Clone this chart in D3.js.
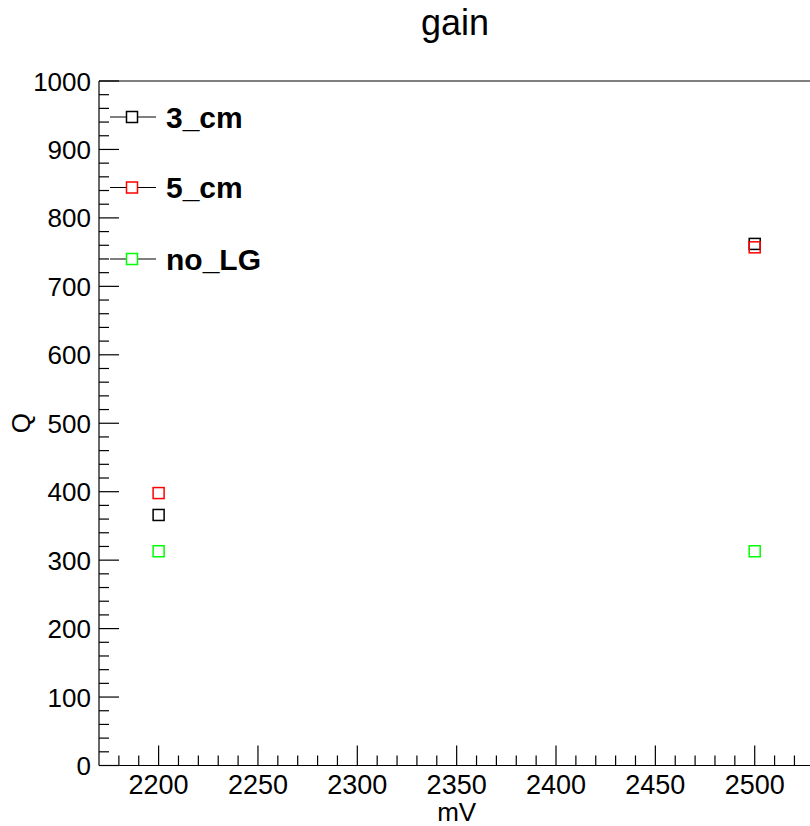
<!DOCTYPE html>
<html>
<head>
<meta charset="utf-8">
<script src="https://cdn.jsdelivr.net/npm/d3@7"></script>
<style>
  html, body { margin: 0; padding: 0; background: #fff; }
  svg { display: block; font-family: "Liberation Sans", Arial, Helvetica, sans-serif; }
</style>
</head>
<body>
<svg id="chart" width="810" height="826"></svg>
<script>
// Gain measurements: charge Q versus supply voltage (mV)
const voltages = [2200, 2500];
const seriesNames = ["3_cm", "5_cm", "no_LG"];
const seriesColors = ["#000000", "#ff0000", "#00ff00"];
const q3cm = [366, 762];
const q5cm = [398, 757];
const qNoLG = [313, 313];
const xTicks = [2200, 2250, 2300, 2350, 2400, 2450, 2500];
const yTicks = [0, 100, 200, 300, 400, 500, 600, 700, 800, 900, 1000];

const series = [q3cm, q5cm, qNoLG].map((vals, i) => ({
  name: seriesNames[i],
  color: seriesColors[i],
  points: vals.map((q, j) => ({ x: voltages[j], y: q }))
}));

const svg = d3.select("#chart");
const frame = { left: 99, top: 81, bottom: 765.5 };
const x = d3.scaleLinear().domain([2170, 2530]).range([frame.left, frame.left + 360 * 1.987]);
const y = d3.scaleLinear().domain([0, 1000]).range([frame.bottom, frame.top]);

// Frame border (top edge and right edge)
svg.append("path")
  .attr("d", `M${frame.left},${frame.top}H${x(2530)}V${frame.bottom}`)
  .attr("fill", "none").attr("stroke", "#000").attr("stroke-width", 1.2);

// X axis: majors every 50, minors every 10
const xAxis = svg.append("g").attr("transform", `translate(0,${frame.bottom})`);
xAxis.append("line").attr("x1", frame.left).attr("x2", x(2530)).attr("stroke", "#000").attr("stroke-width", 1.2);
const xMinor = d3.range(2180, 2530, 10).filter(v => v % 50 !== 0);
xAxis.selectAll("line.minor").data(xMinor).join("line").attr("class", "minor")
  .attr("x1", d => x(d)).attr("x2", d => x(d)).attr("y1", 0).attr("y2", -10)
  .attr("stroke", "#000").attr("stroke-width", 1.2);
xAxis.selectAll("line.major").data(xTicks).join("line").attr("class", "major")
  .attr("x1", d => x(d)).attr("x2", d => x(d)).attr("y1", 0).attr("y2", -20)
  .attr("stroke", "#000").attr("stroke-width", 1.2);
xAxis.selectAll("text").data(xTicks).join("text")
  .attr("x", d => x(d)).attr("y", 28).attr("text-anchor", "middle")
  .attr("font-size", 27).attr("fill", "#000").text(d => d);

// Y axis: majors every 100, minors every 20
const yAxis = svg.append("g").attr("transform", `translate(${frame.left},0)`);
yAxis.append("line").attr("y1", frame.top).attr("y2", frame.bottom).attr("stroke", "#000").attr("stroke-width", 1.2);
const yMinor = d3.range(20, 1000, 20).filter(v => v % 100 !== 0);
yAxis.selectAll("line.minor").data(yMinor).join("line").attr("class", "minor")
  .attr("y1", d => y(d)).attr("y2", d => y(d)).attr("x1", 0).attr("x2", 10)
  .attr("stroke", "#000").attr("stroke-width", 1.2);
yAxis.selectAll("line.major").data(yTicks).join("line").attr("class", "major")
  .attr("y1", d => y(d)).attr("y2", d => y(d)).attr("x1", 0).attr("x2", 20)
  .attr("stroke", "#000").attr("stroke-width", 1.2);
yAxis.selectAll("text").data(yTicks).join("text")
  .attr("x", -8).attr("y", d => y(d) + 9.5).attr("text-anchor", "end")
  .attr("font-size", 26).attr("fill", "#000").text(d => d);

// Axis titles and chart title
svg.append("text").attr("x", (frame.left + x(2530)) / 2).attr("y", 821)
  .attr("text-anchor", "middle").attr("font-size", 26).text("mV");
svg.append("text").attr("transform", `translate(30,${(frame.top + frame.bottom) / 2}) rotate(-90)`)
  .attr("text-anchor", "middle").attr("font-size", 26).text("Q");
svg.append("text").attr("x", 455).attr("y", 35)
  .attr("text-anchor", "middle").attr("font-size", 36).text("gain");

// Open square markers
const markerSize = 11;
const plot = svg.append("g");
series.forEach(s => {
  plot.selectAll(null).data(s.points).join("rect")
    .attr("x", d => x(d.x) - markerSize / 2).attr("y", d => y(d.y) - markerSize / 2)
    .attr("width", markerSize).attr("height", markerSize)
    .attr("fill", "none").attr("stroke", s.color).attr("stroke-width", 1.5);
});

// Legend
const legend = svg.append("g");
const legendRows = [117, 187.5, 259];
series.forEach((s, i) => {
  const g = legend.append("g").attr("transform", `translate(0,${legendRows[i]})`);
  g.append("line").attr("x1", 110).attr("x2", 156).attr("y1", 0).attr("y2", 0)
    .attr("stroke", "#000").attr("stroke-width", 1.2);
  g.append("rect").attr("x", 132 - markerSize / 2).attr("y", -markerSize / 2)
    .attr("width", markerSize).attr("height", markerSize)
    .attr("fill", "#fff").attr("stroke", s.color).attr("stroke-width", 1.5);
  g.append("text").attr("x", 166).attr("y", 10.5).attr("font-size", 30)
    .attr("font-weight", "bold").attr("fill", "#000").text(s.name);
});
</script>
</body>
</html>
